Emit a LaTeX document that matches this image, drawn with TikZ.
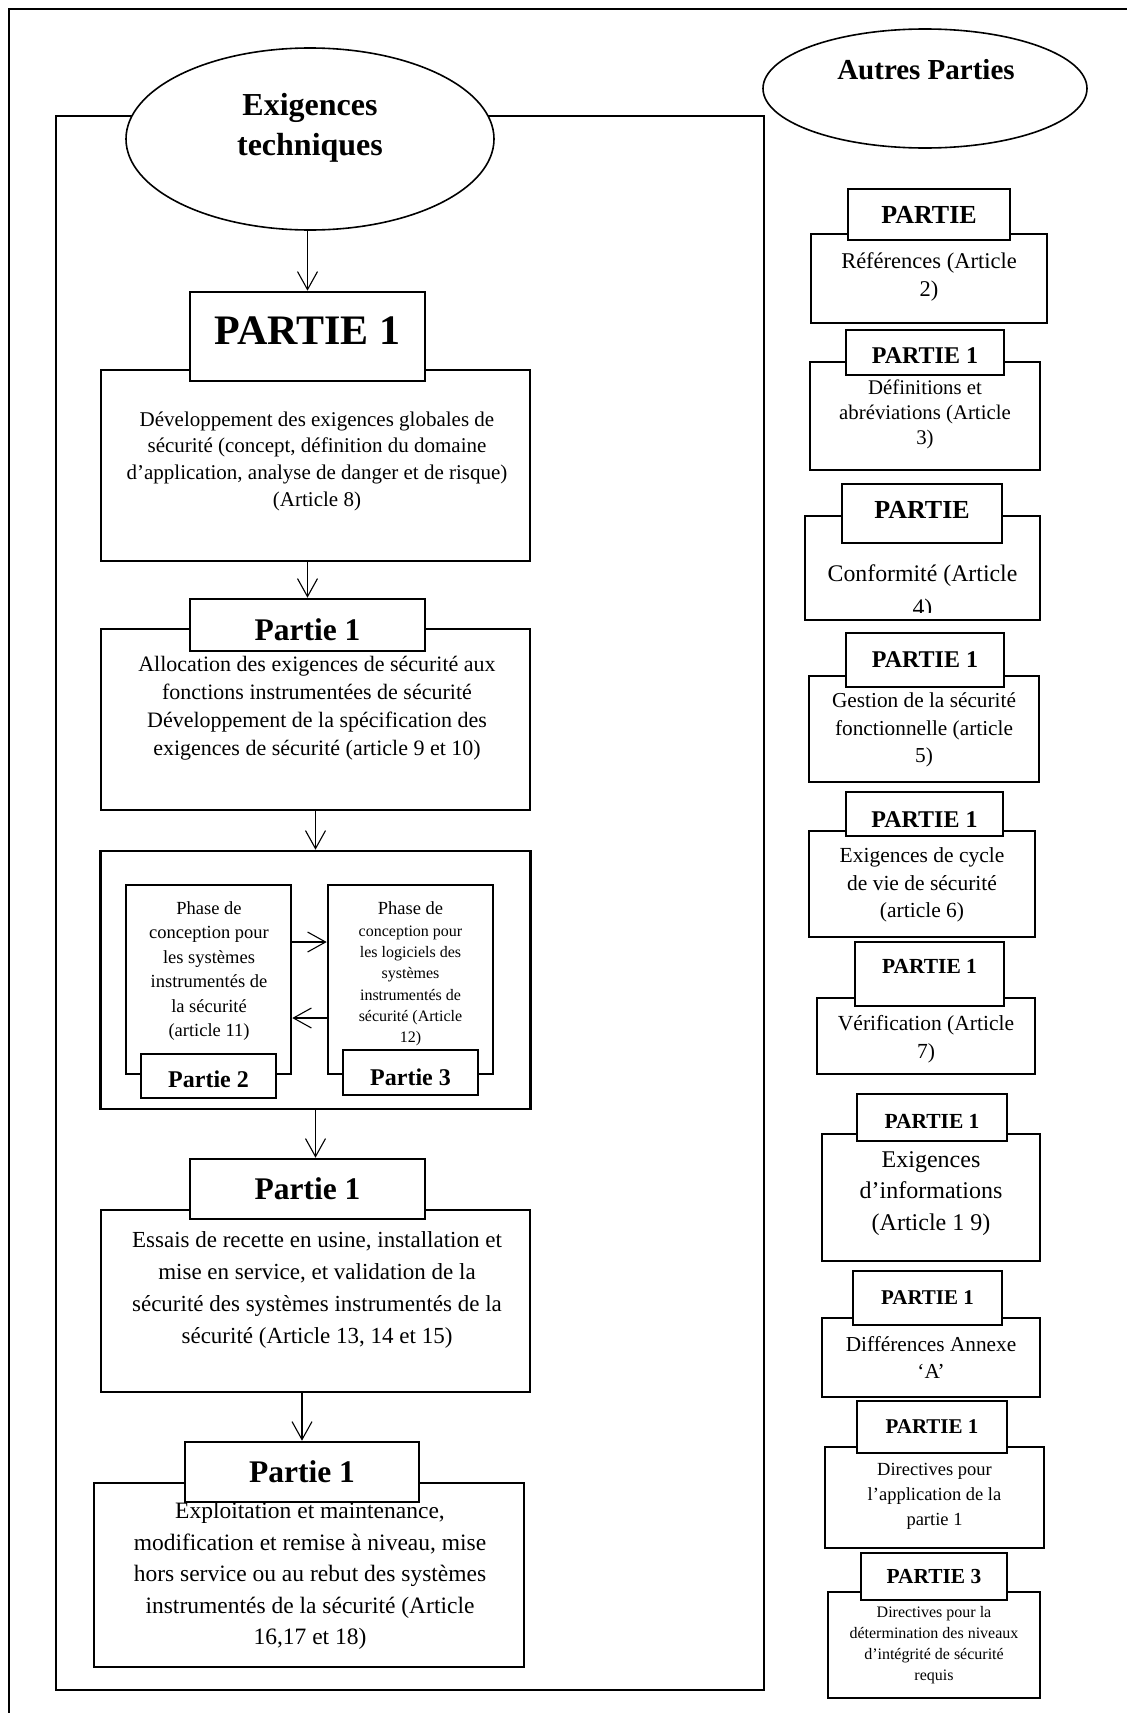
\documentclass[tikz,border=0pt]{standalone}
\usepackage{fontspec}
\setmainfont{Liberation Serif}
\usetikzlibrary{arrows.meta}
\usetikzlibrary{shapes.geometric}

\newcommand{\fsz}[2]{\fontsize{#1}{#2}\selectfont}

\tikzset{
  bubble/.style={draw, ellipse, line width=1.6pt, fill=white, inner sep=0pt},
  mainbox/.style={draw, line width=2.6pt, inner sep=0pt},
  titlebox/.style={draw, line width=2.6pt, fill=white, inner sep=0pt},
  txt/.style={align=center, inner sep=0pt},
  arr/.style={line width=1.1pt, -{Straight Barb[length=18pt,width=20pt]}}
}

\begin{document}
\begin{tikzpicture}[x=1pt, y=-1pt]
    \useasboundingbox (0,0) rectangle (1127,1713);
    % Frames
    \draw[line width=2.4pt] (9,1713) -- (9,9) -- (1127,9);
    \draw[line width=2pt] (56,116) rectangle (764,1690);
    % Headings
    \node[bubble, minimum width=368pt, minimum height=182pt] (tech) at (310,139) {};
    \node[txt, font=\bfseries\fsz{32}{40}] (techtxt) at (310,128) {Exigences\\techniques};
    \node[bubble, minimum width=324pt, minimum height=119pt] (autres) at (925,88.5) {};
    \node[txt, font=\bfseries\fsz{29}{35}] (autrestxt) at (926,70) {Autres Parties};

    % Left column
    \node[mainbox, minimum width=429pt, minimum height=191pt] (dev) at (315.5,465.5) {};
    \node[txt, font=\fsz{21}{26.7}] (devtxt) at (317,461) {Développement des exigences globales de\\sécurité (concept, définition du domaine\\d’application, analyse de danger et de risque)\\(Article 8)};
    \node[titlebox, minimum width=235pt, minimum height=89pt, text depth=11pt, font=\bfseries\fsz{42}{48}] (devtitle) at (307.5,336.5) {PARTIE 1};

    \node[mainbox, minimum width=429pt, minimum height=181pt] (alloc) at (315.5,719.5) {};
    \node[txt, font=\fsz{22}{28}] (alloctxt) at (317,708) {Allocation des exigences de sécurité aux\\fonctions instrumentées de sécurité\\Développement de la spécification des\\exigences de sécurité (article 9 et 10)};
    \node[titlebox, minimum width=235pt, minimum height=52pt, text height=30.5pt, font=\bfseries\fsz{31.5}{36}] (alloctitle) at (307.5,625) {Partie 1};

    \node[mainbox, minimum width=430pt, minimum height=258pt] (conc) at (315.5,980) {};
    \node[mainbox, minimum width=165pt, minimum height=189pt] (pa) at (208.5,979.5) {};
    \node[txt, font=\fsz{18.5}{24.5}] (patxt) at (209,971) {Phase de\\conception pour\\les systèmes\\instrumentés de\\la sécurité\\(article 11)};
    \node[titlebox, minimum width=135pt, minimum height=44pt, text height=23.2pt, font=\bfseries\fsz{24}{28}] (patitle) at (208.5,1076) {Partie 2};
    \node[mainbox, minimum width=165pt, minimum height=189pt] (pb) at (410.5,979.5) {};
    \node[txt, font=\fsz{16}{21.3}] (pbtxt) at (410.5,974) {{\fsz{18.5}{22}Phase de}\\conception pour\\les logiciels des\\systèmes\\instrumentés de\\sécurité (Article\\12)};
    \node[titlebox, minimum width=135pt, minimum height=45pt, text height=25.4pt, font=\bfseries\fsz{24}{28}] (pbtitle) at (410.5,1072.5) {Partie 3};

    \node[mainbox, minimum width=429pt, minimum height=182pt] (essais) at (315.5,1301) {};
    \node[txt, font=\fsz{23}{31.8}] (essaistxt) at (317,1290) {Essais de recette en usine, installation et\\mise en service, et validation de la\\sécurité des systèmes instrumentés de la\\sécurité (Article 13, 14 et 15)};
    \node[titlebox, minimum width=235pt, minimum height=60pt, font=\bfseries\fsz{31.5}{36}] (essaistitle) at (307.5,1189) {Partie 1};

    \node[mainbox, minimum width=430pt, minimum height=184pt] (exploit) at (309,1575) {};
    \node[txt, font=\fsz{23.5}{31.5}] (exploittxt) at (310,1576) {Exploitation et maintenance,\\modification et remise à niveau, mise\\hors service ou au rebut des systèmes\\instrumentés de la sécurité (Article\\16,17 et 18)};
    \node[titlebox, minimum width=234pt, minimum height=60pt, font=\bfseries\fsz{31.5}{36}] (exploittitle) at (302,1472) {Partie 1};

    % Left column arrows
    \draw[arr] (tech.south -| devtitle.north) -- (devtitle.north);
    \draw[arr] (dev.south -| alloctitle.north) -- (alloctitle.north);
    \draw[arr] (alloc.south) -- (conc.north);
    \draw[arr] (conc.south) -- (conc.south |- essaistitle.north);
    \draw[arr] (essais.south -| exploittitle.north) -- (exploittitle.north);
    \draw[arr] ([yshift=37.5pt]pa.east) -- ([yshift=37.5pt]pb.west);
    \draw[arr] ([yshift=-38.5pt]pb.west) -- ([yshift=-38.5pt]pa.east);

    % Right column
    \node[mainbox, minimum width=236pt, minimum height=89pt] (ref) at (929,278.5) {};
    \node[txt, font=\fsz{22.5}{28}] (reftxt) at (929,276.5) {Références (Article\\2)};
    \node[titlebox, minimum width=162pt, minimum height=51pt, font=\bfseries\fsz{26}{30}] (reftitle) at (929,214.5) {PARTIE};

    \node[mainbox, minimum width=230pt, minimum height=108pt] (defs) at (925,416) {};
    \node[txt, font=\fsz{20.8}{25}] (defstxt) at (925,414) {Définitions et\\abréviations (Article\\3)};
    \node[titlebox, minimum width=158pt, minimum height=45pt, text height=22.9pt, font=\bfseries\fsz{24}{28}] (defstitle) at (925,352.5) {PARTIE 1};

    \node[mainbox, minimum width=235pt, minimum height=104pt] (conf) at (922.5,568) {};
    \begin{scope}
        \clip (807,518) rectangle (1038,612);
        \node[txt, font=\fsz{23.8}{34}] (conftxt) at (922.5,593) {Conformité (Article\\4)};
    \end{scope}
    \node[titlebox, minimum width=160pt, minimum height=59pt, text depth=6.6pt, font=\bfseries\fsz{26}{30}] (conftitle) at (922,513.5) {PARTIE};

    \node[mainbox, minimum width=230pt, minimum height=106pt] (gest) at (924,729) {};
    \node[txt, font=\fsz{21.3}{27.5}] (gesttxt) at (924,730) {Gestion de la sécurité\\fonctionnelle (article\\5)};
    \node[titlebox, minimum width=158pt, minimum height=54pt, font=\bfseries\fsz{24}{28}] (gesttitle) at (925,660) {PARTIE 1};

    \node[mainbox, minimum width=226pt, minimum height=106pt] (cycle) at (922,884) {};
    \node[txt, font=\fsz{21.5}{27.5}] (cycletxt) at (922,885) {Exigences de cycle\\de vie de sécurité\\(article 6)};
    \node[titlebox, minimum width=157pt, minimum height=44pt, text height=27.3pt, font=\bfseries\fsz{24}{28}] (cycletitle) at (924.5,814) {PARTIE 1};

    \node[mainbox, minimum width=218pt, minimum height=76pt] (verif) at (926,1036) {};
    \node[txt, font=\fsz{21.5}{28}] (veriftxt) at (926,1039) {Vérification (Article\\7)};
    \node[titlebox, minimum width=149pt, minimum height=64pt, text depth=15pt, font=\bfseries\fsz{21.5}{25}] (veriftitle) at (929.5,974) {PARTIE 1};

    \node[mainbox, minimum width=218pt, minimum height=127pt] (info) at (931,1197.5) {};
    \node[txt, font=\fsz{24}{31.5}] (infotxt) at (931,1193.5) {Exigences\\d’informations\\(Article 1 9)};
    \node[titlebox, minimum width=150pt, minimum height=47pt, text height=21.2pt, font=\bfseries\fsz{21.5}{25}] (infotitle) at (932,1117.5) {PARTIE 1};

    \node[mainbox, minimum width=218pt, minimum height=79pt] (diff) at (931,1357.5) {};
    \node[txt, font=\fsz{21.3}{27}] (difftxt) at (931,1357) {Différences Annexe\\‘A’};
    \node[titlebox, minimum width=149pt, minimum height=54pt, font=\bfseries\fsz{21}{25}] (difftitle) at (927.5,1298) {PARTIE 1};

    \node[mainbox, minimum width=219pt, minimum height=101pt] (direc) at (934.5,1497.5) {};
    \node[txt, font=\fsz{18.5}{25}] (directxt) at (934.5,1496) {Directives pour\\l’application de la\\partie 1};
    \node[titlebox, minimum width=150pt, minimum height=52pt, font=\bfseries\fsz{21}{25}] (directitle) at (932,1427) {PARTIE 1};

    \node[mainbox, minimum width=212pt, minimum height=106pt] (integ) at (934,1645) {};
    \node[txt, font=\fsz{16}{21}] (integtxt) at (934,1645.5) {Directives pour la\\détermination des niveaux\\d’intégrité de sécurité\\requis};
    \node[titlebox, minimum width=146pt, minimum height=47pt, font=\bfseries\fsz{21.4}{25}] (integtitle) at (934,1576.5) {PARTIE 3};
\end{tikzpicture}
\end{document}
